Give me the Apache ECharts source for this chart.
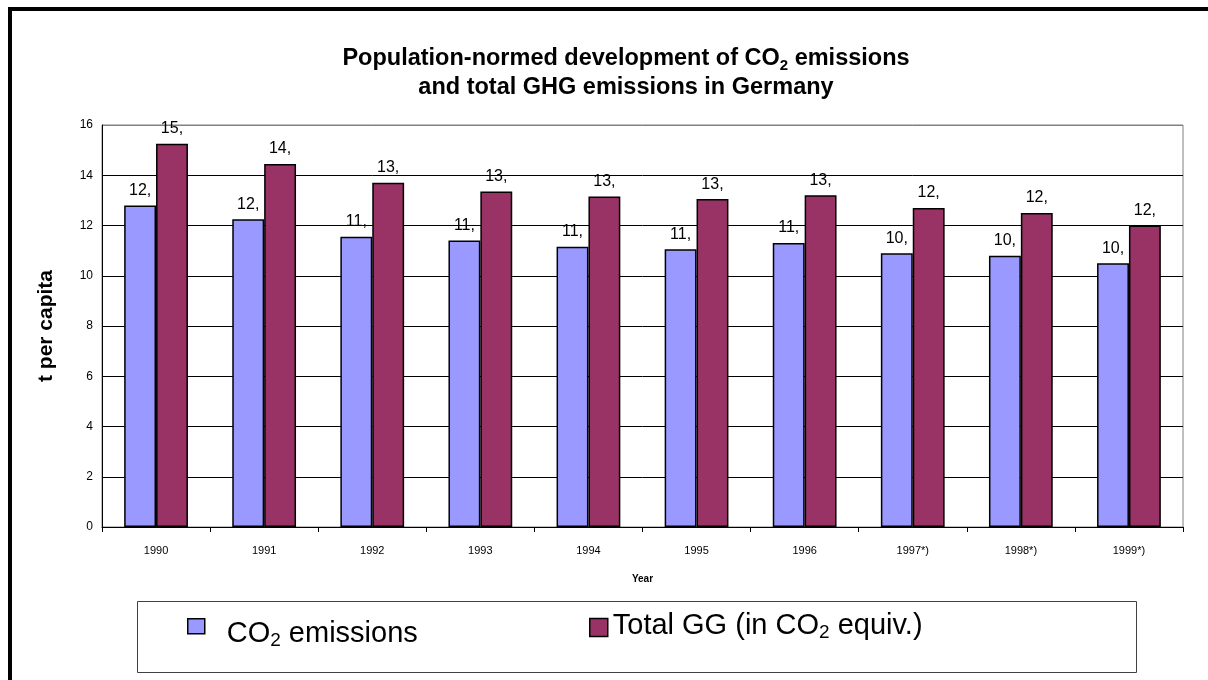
<!DOCTYPE html>
<html>
<head>
<meta charset="utf-8">
<title>Population-normed CO2 and GHG emissions in Germany</title>
<script src="https://cdn.jsdelivr.net/npm/echarts@6/dist/echarts.min.js"></script>
<style>
  html, body { margin: 0; padding: 0; background: #fff; }
  #chart { width: 1208px; height: 680px; }
</style>
</head>
<body>
<div id="chart"></div>
<script>
// Years on the category axis
const years = ['1990', '1991', '1992', '1993', '1994', '1995', '1996', '1997*)', '1998*)', '1999*)'];
// t per capita
const co2Values = [12.8, 12.25, 11.55, 11.4, 11.15, 11.05, 11.3, 10.9, 10.8, 10.5];
const ghgValues = [15.25, 14.45, 13.7, 13.35, 13.15, 13.05, 13.2, 12.7, 12.5, 12.0];
const yTicks = [0, 2, 4, 6, 8, 10, 12, 14, 16];

const FONT = "'Liberation Sans', Arial, sans-serif";

const chart = echarts.init(document.getElementById('chart'), null, { renderer: 'canvas' });

// Value labels show the integer part followed by a comma
const labelFmt = p => Math.floor(p.value) + ',';

// Rich text styles for legend entries (main text + subscript)
const legendRich = {
  n: { fontFamily: FONT, fontSize: 29, color: '#000', lineHeight: 34 },
  s: { fontFamily: FONT, fontSize: 19, color: '#000', lineHeight: 21, verticalAlign: 'bottom' }
};

const valueLabel = {
  show: true,
  position: 'top',
  distance: 7,
  formatter: labelFmt,
  fontFamily: FONT,
  fontSize: 16,
  color: '#000'
};

const option = {
  backgroundColor: '#fff',
  animation: false,
  title: {
    left: 626,
    top: 44,
    padding: 0,
    textAlign: 'center',
    text: '{b|Population-normed development of CO}{bs|2}{b| emissions}\n{b|and total GHG emissions in Germany}',
    textStyle: {
      rich: {
        b: { fontFamily: FONT, fontWeight: 'bold', fontSize: 23.5, color: '#000', lineHeight: 29 },
        bs: { fontFamily: FONT, fontWeight: 'bold', fontSize: 15, color: '#000', lineHeight: 18, verticalAlign: 'bottom' }
      }
    }
  },
  grid: {
    left: 102,
    right: 25,
    top: 125,
    bottom: 153,
    show: true,
    borderColor: '#808080',
    borderWidth: 1,
    backgroundColor: '#fff'
  },
  legend: [
    {
      data: ['CO2 emissions'],
      left: 187,
      top: 618,
      padding: 0,
      itemWidth: 17,
      itemHeight: 15,
      icon: 'rect',
      itemStyle: { borderColor: '#000', borderWidth: 1.5 },
      formatter: () => '{n|CO}{s|2}{n| emissions}',
      textStyle: { padding: [15, 0, 0, 17], rich: legendRich }
    },
    {
      data: ['Total GG (in CO2 equiv.)'],
      left: 589,
      top: 611,
      padding: 0,
      itemWidth: 18,
      itemHeight: 18,
      icon: 'rect',
      itemStyle: { borderColor: '#000', borderWidth: 1.5 },
      formatter: () => '{n|Total GG (in CO}{s|2}{n| equiv.)}',
      textStyle: { padding: [0, 0, 4, 0], rich: legendRich }
    }
  ],
  xAxis: {
    type: 'category',
    data: years,
    boundaryGap: true,
    name: 'Year',
    nameLocation: 'middle',
    nameGap: 47,
    nameTextStyle: { fontFamily: FONT, fontWeight: 'bold', fontSize: 10, color: '#000' },
    axisLine: { show: true, lineStyle: { color: '#000', width: 1 } },
    axisTick: { show: true, length: 5, lineStyle: { color: '#000' } },
    axisLabel: { fontFamily: FONT, fontSize: 11, color: '#000', margin: 18 },
    splitLine: { show: false }
  },
  yAxis: {
    type: 'value',
    min: yTicks[0],
    max: yTicks[yTicks.length - 1],
    interval: 2,
    name: 't per capita',
    nameLocation: 'middle',
    nameGap: 45,
    nameRotate: 90,
    nameTextStyle: { fontFamily: FONT, fontWeight: 'bold', fontSize: 21, color: '#000' },
    axisLine: { show: true, lineStyle: { color: '#000', width: 1 } },
    axisTick: { show: false },
    axisLabel: { fontFamily: FONT, fontSize: 12, color: '#000', margin: 9 },
    splitLine: {
      show: true,
      lineStyle: { color: ['#000', '#000', '#000', '#000', '#000', '#000', '#000', '#000', '#808080'], width: 1 }
    }
  },
  series: [
    {
      name: 'CO2 emissions',
      type: 'bar',
      data: co2Values,
      barGap: '0%',
      barCategoryGap: '41%',
      itemStyle: { color: '#9999FF', borderColor: '#000', borderWidth: 1.5 },
      label: valueLabel
    },
    {
      name: 'Total GG (in CO2 equiv.)',
      type: 'bar',
      data: ghgValues,
      barGap: '0%',
      barCategoryGap: '41%',
      itemStyle: { color: '#993366', borderColor: '#000', borderWidth: 1.5 },
      label: valueLabel
    }
  ],
  graphic: [
    {
      type: 'polyline',
      silent: true,
      shape: { points: [[10, 682], [10, 9], [1210, 9]] },
      style: { stroke: '#000', lineWidth: 4, fill: null }
    },
    {
      type: 'rect',
      silent: true,
      z: -1,
      shape: { x: 137.5, y: 601.5, width: 999, height: 71 },
      style: { stroke: '#404040', lineWidth: 1, fill: '#fff' }
    }
  ]
};

chart.setOption(option);
</script>
</body>
</html>
